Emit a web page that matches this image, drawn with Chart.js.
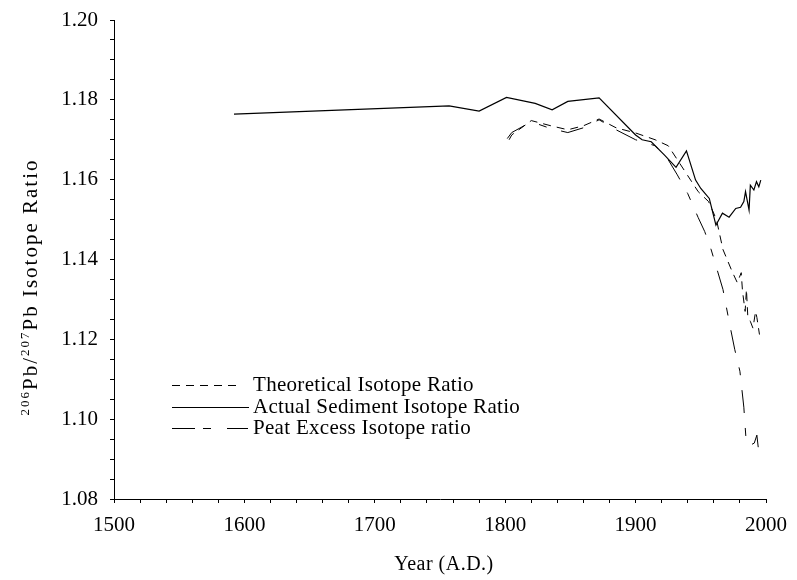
<!DOCTYPE html>
<html>
<head>
<meta charset="utf-8">
<script src="https://cdn.jsdelivr.net/npm/chart.js@4.4.1/dist/chart.umd.min.js"></script>
<style>
html,body{margin:0;padding:0;background:#fff;}
#wrap{position:relative;width:797px;height:580px;}
</style>
</head>
<body>
<div id="wrap"><canvas id="c" width="797" height="580"></canvas></div>
<script>
// Actual sediment isotope ratio (solid)
const actualYears = [1592,1757,1780,1801,1823,1836,1848,1872,1900,1905,1912,1922,1931,1939,1946,1950,1956.5,1961.6,1966.6,1971.7,1976.8,1980.5,1983,1984.3,1987,1988,1990.7,1992.7,1994.5,1996];
const actualValues = [1.1764,1.1785,1.1772,1.1806,1.1791,1.1775,1.1796,1.1805,1.1712,1.1700,1.1695,1.1662,1.1631,1.1672,1.1599,1.1578,1.1553,1.1486,1.1516,1.1506,1.1528,1.1531,1.1545,1.1570,1.1524,1.1586,1.1574,1.1595,1.1582,1.1599];
// Theoretical isotope ratio (short dashes)
const theoYears = [1803,1805,1820,1835,1848,1860,1872,1885,1900,1915,1925,1932,1940,1948,1956,1962,1967,1974,1978,1981,1982,1984,1985,1986,1988,1990,1992,1993,1995];
const theoValues = [1.1700,1.1712,1.1748,1.1735,1.1725,1.1735,1.1752,1.1730,1.1717,1.1700,1.1685,1.1650,1.1610,1.1570,1.1545,1.1500,1.1425,1.1370,1.1342,1.1367,1.1320,1.1270,1.1325,1.1260,1.1245,1.1228,1.1270,1.1255,1.1212];
// Peat excess isotope ratio (long dashes)
const peatYears = [1801.6,1805,1820,1835,1848,1860,1872,1885,1900,1915,1925,1932,1940,1948,1953,1958,1962,1967,1972,1976,1980,1983,1985,1988,1991,1993,1995];
const peatValues = [1.1703,1.1718,1.1745,1.1728,1.1718,1.1730,1.1750,1.1725,1.1700,1.1685,1.1650,1.1612,1.1565,1.1505,1.1470,1.1424,1.1380,1.1325,1.1240,1.1175,1.1120,1.1030,1.0935,1.0935,1.0940,1.0960,1.0902];

const seriesNames = ['Theoretical Isotope Ratio','Actual Sediment Isotope Ratio','Peat Excess Isotope ratio'];
const xMajorLabels = [1500,1600,1700,1800,1900,2000];
const yMajorLabels = [1.08,1.10,1.12,1.14,1.16,1.18,1.20];

const FONT = '"Liberation Serif", "Times New Roman", serif';
const toXY = (xs, ys) => xs.map((x, i) => ({x: x, y: ys[i]}));

const dashes = [[8,6], [], [23,15,8,15]];
const legendDashes = [[8,6], [], [23,8,8,16,21,100]];
const legendEnds = [237, 249, 249];

const legendPlugin = {
  id: 'customLegend',
  afterDraw(chart) {
    const ctx = chart.ctx;
    ctx.save();
    const rows = [385, 407, 428];
    chart.data.datasets.forEach((ds, i) => {
      const y = rows[i];
      ctx.beginPath();
      ctx.setLineDash(legendDashes[i]);
      ctx.strokeStyle = '#000';
      ctx.lineWidth = 1;
      ctx.moveTo(172, y + 0.5);
      ctx.lineTo(legendEnds[i], y + 0.5);
      ctx.stroke();
      ctx.setLineDash([]);
      ctx.fillStyle = '#000';
      ctx.font = '21px ' + FONT;
      ctx.letterSpacing = '0.3px';
      ctx.textBaseline = 'middle';
      ctx.textAlign = 'left';
      ctx.fillText(ds.label, 253, y);
    });
    // x title
    ctx.letterSpacing = '0.5px';
    ctx.font = '20px ' + FONT;
    ctx.textAlign = 'center';
    ctx.textBaseline = 'middle';
    ctx.fillText('Year (A.D.)', 444, 565);
    // y title with superscripts
    ctx.translate(30, 287);
    ctx.rotate(-Math.PI / 2);
    ctx.letterSpacing = '2px';
    const parts = [['206', true], ['Pb/', false], ['207', true], ['Pb Isotope Ratio', false]];
    const big = '21px ' + FONT, small = '13px ' + FONT;
    let total = 0;
    parts.forEach(p => { ctx.font = p[1] ? small : big; total += ctx.measureText(p[0]).width; });
    let x = -total / 2;
    ctx.textAlign = 'left';
    ctx.textBaseline = 'alphabetic';
    parts.forEach(p => {
      ctx.font = p[1] ? small : big;
      ctx.fillText(p[0], x, p[1] ? -1 : 7);
      x += ctx.measureText(p[0]).width;
    });
    ctx.restore();
  }
};

new Chart(document.getElementById('c'), {
  type: 'line',
  data: {
    datasets: [
      {label: seriesNames[0], data: toXY(theoYears, theoValues), borderColor: '#000', borderWidth: 1, borderDash: dashes[0], pointRadius: 0, tension: 0, fill: false},
      {label: seriesNames[1], data: toXY(actualYears, actualValues), borderColor: '#000', borderWidth: 1.2, borderDash: dashes[1], pointRadius: 0, tension: 0, fill: false},
      {label: seriesNames[2], data: toXY(peatYears, peatValues), borderColor: '#000', borderWidth: 1, borderDash: dashes[2], pointRadius: 0, tension: 0, fill: false}
    ]
  },
  options: {
    responsive: false,
    animation: false,
    layout: {padding: {left: 0, right: 24, top: 20, bottom: 0}},
    plugins: {legend: {display: false}, tooltip: {enabled: false}},
    scales: {
      x: {
        type: 'linear', min: 1500, max: 2000,
        afterFit(s) { s.height = 81; },
        afterBuildTicks(s) { const t = []; for (let v = 1500; v <= 2000; v += 20) t.push({value: v}); s.ticks = t; },
        ticks: {
          autoSkip: false, maxRotation: 0, padding: 10, color: '#000',
          font: {family: FONT, size: 21},
          callback: v => xMajorLabels.includes(Math.round(v)) ? String(Math.round(v)) : ''
        },
        grid: {drawOnChartArea: false, drawTicks: true, tickLength: 4, tickColor: '#000', color: '#000'},
        border: {display: true, color: '#000', width: 1}
      },
      y: {
        type: 'linear', min: 1.08, max: 1.20,
        afterFit(s) { s.width = 114; s.paddingTop = 0; s.paddingBottom = 0; },
        afterBuildTicks(s) { const t = []; for (let i = 0; i <= 24; i++) t.push({value: +(1.08 + i * 0.005).toFixed(3)}); s.ticks = t; },
        ticks: {
          autoSkip: false, padding: 12, color: '#000',
          font: {family: FONT, size: 21, lineHeight: 0.7},
          callback: v => { const r = Math.round(v * 1000); return (r % 20 === 0) ? (r / 1000).toFixed(2) : ''; }
        },
        grid: {drawOnChartArea: false, drawTicks: true, tickLength: 4, tickColor: '#000', color: '#000'},
        border: {display: true, color: '#000', width: 1}
      }
    }
  },
  plugins: [legendPlugin]
});
</script>
</body>
</html>
